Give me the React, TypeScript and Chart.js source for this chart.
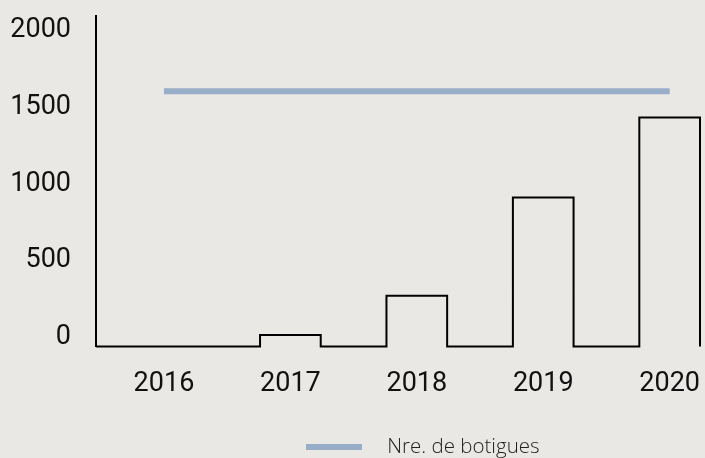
import React, { useEffect, useRef } from "react";
import { Chart, registerables } from "chart.js";

Chart.register(...registerables);

// ---- data ----
const YEARS = [2016, 2017, 2018, 2019, 2020];
const STEP_VALUES = [0, 75, 330, 970, 1490];
const BOTIGUES = [1660, 1660, 1660, 1660, 1660];
const Y_TICKS = [0, 500, 1000, 1500, 2000];
const LEGEND_LABEL = "Nre. de botigues";

// ---- layout / style constants ----
const X_MIN = 2015.4625;
const X_MAX = 2020.24;
const HALF = 0.24;
const Y_MAX = 2150;
const BLUE = "#98adc8";
const BG = "#eae8e4";
const LEGEND_X = 306;
const LEGEND_DY = 9;
const LEGEND_FONT = 20.5;
const TICK_FONT = 'Roboto, sans-serif';
const TICK_SIZE = 27;

function makeLegendSymbol(): HTMLCanvasElement {
  const c = document.createElement("canvas");
  c.width = 71;
  c.height = 6;
  const ctx = c.getContext("2d")!;
  ctx.fillStyle = BLUE;
  ctx.fillRect(0, 0, 56, 6);
  return c;
}

const legendShift = {
  id: "legendShift",
  afterLayout(chart: any) {
    const lg = chart.legend;
    if (!lg) return;
    const w = lg.right - lg.left;
    lg.left = LEGEND_X - lg.options.labels.padding;
    lg.right = lg.left + w;
    lg.top += LEGEND_DY;
    lg.bottom += LEGEND_DY;
  },
};

export default function App() {
  const ref = useRef<HTMLCanvasElement | null>(null);

  useEffect(() => {
    if (!ref.current) return;
    const stepPoints: { x: number; y: number }[] = [{ x: X_MIN, y: 0 }];
    YEARS.forEach((yr, i) => {
      stepPoints.push({ x: yr - HALF, y: STEP_VALUES[i] });
      stepPoints.push({ x: yr + HALF, y: 0 });
    });

    const chart = new Chart(ref.current, {
      type: "line",
      data: {
        datasets: [
          {
            label: LEGEND_LABEL,
            data: YEARS.map((x, i) => ({ x, y: BOTIGUES[i] })),
            borderColor: BLUE,
            backgroundColor: BLUE,
            borderWidth: 6,
            borderCapStyle: "butt",
            pointRadius: 0,
            fill: false,
          },
          {
            label: "",
            data: stepPoints,
            stepped: "before",
            borderColor: "#000",
            borderWidth: 2,
            borderJoinStyle: "miter",
            pointRadius: 0,
            fill: false,
            clip: false as any,
          },
        ],
      },
      options: {
        animation: false,
        responsive: false,
        maintainAspectRatio: false,
        layout: { padding: { top: 16, right: 5, left: 0, bottom: 0 } },
        scales: {
          x: {
            type: "linear",
            min: X_MIN,
            max: X_MAX,
            grid: { display: false, drawTicks: false },
            border: { display: false },
            ticks: {
              padding: 22,
              color: "#111",
              font: { family: TICK_FONT, size: TICK_SIZE },
              callback: (v: any) => String(v),
            },
            afterBuildTicks: (s: any) => {
              s.ticks = YEARS.map((v) => ({ value: v }));
            },
            afterFit: (s: any) => {
              s.paddingLeft = 0;
              s.paddingRight = 0;
              s.height = 71;
            },
          },
          y: {
            min: 0,
            max: Y_MAX,
            grid: { display: false, drawTicks: false },
            border: { display: true, color: "#000", width: 2 },
            ticks: {
              padding: 25,
              labelOffset: -9,
              color: "#111",
              font: { family: TICK_FONT, size: TICK_SIZE },
              callback: (v: any) => String(v),
            },
            afterBuildTicks: (s: any) => {
              s.ticks = Y_TICKS.map((v) => ({ value: v }));
            },
            afterFit: (s: any) => {
              s.width = 96;
              s.paddingTop = 0;
              s.paddingBottom = 0;
            },
          },
        },
        plugins: {
          legend: {
            position: "bottom",
            align: "start",
            labels: {
              filter: (item: any) => !!item.text,
              usePointStyle: true,
              pointStyle: makeLegendSymbol() as any,
              pointStyleWidth: 71,
              padding: 10,
              color: "#222",
              font: { family: '"Open Sans", sans-serif', size: LEGEND_FONT, weight: "300" as any },
            },
          },
          tooltip: { enabled: false },
        },
      },
      plugins: [legendShift],
    });
    return () => chart.destroy();
  }, []);

  return (
    <div
      style={{
        position: "fixed",
        left: 0,
        top: 0,
        width: 705,
        height: 458,
        background: BG,
      }}
    >
      <canvas ref={ref} width={705} height={458} style={{ display: "block", width: 705, height: 458 }} />
    </div>
  );
}
